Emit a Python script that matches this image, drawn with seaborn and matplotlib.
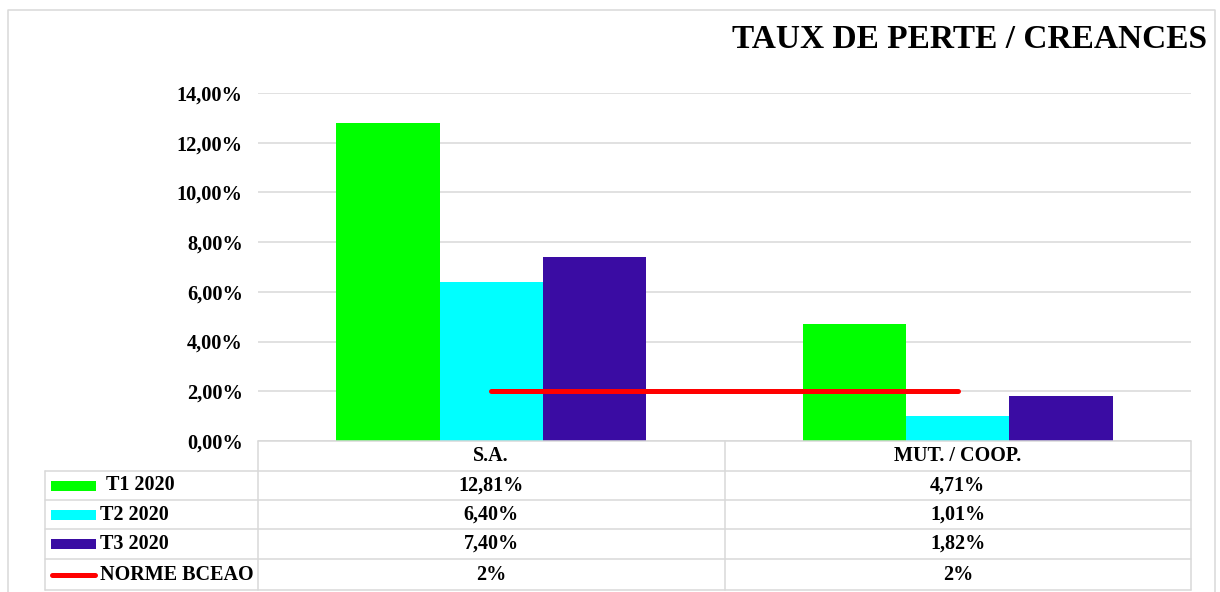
import numpy as np
import pandas as pd
import matplotlib
matplotlib.use("Agg")
import matplotlib.pyplot as plt
import seaborn as sns

# data
categories = ["S.A.", "MUT. / COOP."]
series = ["T1 2020", "T2 2020", "T3 2020"]
t1_2020 = [12.81, 4.71]
t2_2020 = [6.40, 1.01]
t3_2020 = [7.40, 1.82]
norme_bceao = [2, 2]
norme_label = "NORME BCEAO"
title = "TAUX DE PERTE / CREANCES"

colors = ["#00FF00", "#00FFFF", "#3A0CA3"]
norme_color = "#FF0000"
grid_color = "#D9D9D9"

rows = []
for name, vals in zip(series, [t1_2020, t2_2020, t3_2020]):
    for cat, v in zip(categories, vals):
        rows.append({"categorie": cat, "serie": name, "taux": v / 100})
df = pd.DataFrame(rows)

sns.set_style("white")
plt.rcParams["font.family"] = ["Liberation Serif", "DejaVu Serif"]
plt.rcParams["font.weight"] = "bold"
plt.rcParams["text.color"] = "black"
plt.rcParams["ytick.color"] = "black"
plt.rcParams["ytick.labelcolor"] = "black"

W, H = 1220, 592
fig = plt.figure(figsize=(W / 100, H / 100), dpi=100)

# plot area in pixels
left, right, top, bottom = 258, 1191, 93, 441
ax = fig.add_axes([left / W, 1 - bottom / H, (right - left) / W, (bottom - top) / H])

sns.barplot(data=df, x="categorie", y="taux", hue="serie", palette=colors,
            width=0.665, saturation=1, linewidth=0, legend=False, ax=ax)
ax.plot(range(len(categories)), np.array(norme_bceao) / 100, color=norme_color,
        lw=3.6, solid_capstyle="round", zorder=5)

ax.set_xlim(-0.5, len(categories) - 0.5)
ax.set_ylim(0, 0.14)
yt = np.arange(0, 0.1401, 0.02)
ax.set_yticks(yt)
ax.set_yticklabels([f"{v * 100:.2f}%".replace(".", ",") for v in yt],
                   fontsize=14.7, fontweight="bold", color="black")
ax.tick_params(axis="y", length=0, pad=11)
ax.set_xticks([])
ax.set_xlabel("")
ax.set_ylabel("")
ax.yaxis.grid(True, color=grid_color, lw=1.1)
ax.set_axisbelow(True)
for s in ax.spines.values():
    s.set_visible(False)

fig.text(1207 / W, 1 - 40 / H, title, ha="right", va="center",
         fontsize=24, fontweight="bold", color="black")

# overlay in pixel coordinates for the data table and the outer frame
ov = fig.add_axes([0, 0, 1, 1])
ov.set_xlim(0, W)
ov.set_ylim(H, 0)
ov.axis("off")

ov.plot([8, 8, 1215, 1215], [H + 2, 10, 10, H + 2], color=grid_color, lw=1.1)

row_y = [441, 471, 500, 529, 559, 590]
col_x = [left + i * (right - left) / len(categories) for i in range(len(categories) + 1)]
leg_left = 45

lw_t = 1.1
# header row
ov.plot([left, right], [row_y[0], row_y[0]], color=grid_color, lw=lw_t)
for y in row_y[1:]:
    ov.plot([leg_left, right], [y, y], color=grid_color, lw=lw_t)
ov.plot([leg_left, leg_left], [row_y[1], row_y[-1]], color=grid_color, lw=lw_t)
for x in col_x:
    ov.plot([x, x], [row_y[0], row_y[-1]], color=grid_color, lw=lw_t)

fs = 14.5
for i, cat in enumerate(categories):
    cx = (col_x[i] + col_x[i + 1]) / 2
    ov.text(cx, (row_y[0] + row_y[1]) / 2, cat, ha="center", va="center",
            fontsize=fs, fontweight="bold", color="black")

table_rows = [(s, v) for s, v in zip(series, [t1_2020, t2_2020, t3_2020])]
table_rows.append((norme_label, norme_bceao))
for r, (name, vals) in enumerate(table_rows):
    y0, y1 = row_y[r + 1], row_y[r + 2]
    cy = (y0 + y1) / 2
    if r < len(series):
        ov.add_patch(plt.Rectangle((51, cy - 5), 45, 10, color=colors[r], lw=0))
        tx = 106 if r == 0 else 100
    else:
        ov.plot([52, 95], [cy, cy], color=norme_color, lw=3.6, solid_capstyle="round")
        tx = 100
    ov.text(tx, cy, name, ha="left", va="center", fontsize=fs, fontweight="bold",
            color="black")
    for i, v in enumerate(vals):
        cx = (col_x[i] + col_x[i + 1]) / 2
        txt = f"{v:.2f}%".replace(".", ",") if r < len(series) else f"{v:g}%"
        ov.text(cx, cy, txt, ha="center", va="center", fontsize=fs,
                fontweight="bold", color="black")

fig.savefig("out.png", dpi=100)
